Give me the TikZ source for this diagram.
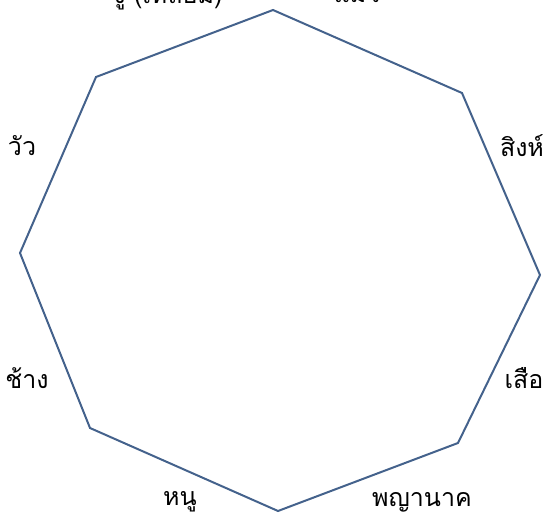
\documentclass[tikz,border=0pt]{standalone}
\usepackage{fontspec}
\newfontfamily\thaifont[Script=Thai]{Loma}
\usetikzlibrary{positioning}
\definecolor{rim}{RGB}{68,98,140}

\begin{document}
\begin{tikzpicture}[
  x=1pt, y=-1pt,
  every node/.style = {font=\thaifont\fontsize{25}{28}\selectfont, inner sep=0pt},
  rimline/.style = {draw=rim, line width=2pt, line join=miter},
  animal/.style = {anchor=center}
]
  \useasboundingbox (0,0) rectangle (547,521);

  % corners of the wheel
  \coordinate (ctop) at (273,10);
  \coordinate (cur)  at (462,93);
  \coordinate (cr)   at (540,275);
  \coordinate (clr)  at (458,443);
  \coordinate (cbot) at (278,511);
  \coordinate (cll)  at (90,428);
  \coordinate (cl)   at (20,253);
  \coordinate (cul)  at (96,77);

  \draw[rimline] (ctop) -- (cur) -- (cr) -- (clr) -- (cbot) -- (cll) -- (cl) -- (cul) -- cycle;

  % animals round the wheel
  \node[animal] (snake) at (168,-4) {งู (เหลือม)};
  \node[animal] (cat)   at (357,-4) {แมว};
  \node[animal] (lion)  at (522,146) {สิงห์};
  \node[animal] (tiger) at (524,378) {เสือ};
  \node[animal] (naga)  at (422,502) {พญานาค};
  \node[animal] (rat)   at (180,502) {หนู};
  \node[animal] (eleph) at (27,378) {ช้าง};
  \node[animal] (ox)    at (22,146) {วัว};
\end{tikzpicture}
\end{document}
